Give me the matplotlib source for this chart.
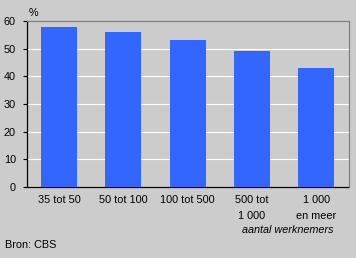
import matplotlib.pyplot as plt

# Data
categories = ["35 tot 50", "50 tot 100", "100 tot 500", "500 tot\n1 000", "1 000\nen meer"]
values = [58, 56, 53, 49, 43]
yticks = [0, 10, 20, 30, 40, 50, 60]

bg = "#cccccc"
bar_color = "#3366ff"

plt.rcParams["font.family"] = ["Liberation Sans", "DejaVu Sans"]

fig = plt.figure(figsize=(3.56, 2.58), dpi=100, facecolor=bg)
ax = fig.add_axes([27 / 356, 71 / 258, 321.5 / 356, 166 / 258], facecolor=bg)

x = range(len(categories))
ax.bar(x, values, width=0.56, color=bar_color, zorder=3)

ax.set_xlim(-0.5, len(categories) - 0.5)
ax.set_ylim(0, 60)
ax.set_yticks(yticks)
ax.yaxis.grid(True, color="white", linewidth=0.8, zorder=1)
ax.set_axisbelow(True)

ax.set_xticks(list(x))
ax.set_xticklabels(categories, fontsize=7.8, linespacing=1.75, va="top")
ax.tick_params(axis="x", length=0, pad=6)
ax.tick_params(axis="y", length=3, width=0.8, pad=5, labelsize=7.8, direction="out")

for side in ["left", "bottom"]:
    ax.spines[side].set_color("black")
    ax.spines[side].set_linewidth(0.9)
for side in ["top", "right"]:
    ax.spines[side].set_color("#808080")
    ax.spines[side].set_linewidth(0.9)

fig.text(29 / 356, 1 - 13 / 258, "%", fontsize=7.8, va="center", ha="left")
fig.text(334 / 356, 1 - 230 / 258, "aantal werknemers", fontsize=7.8, style="italic",
         va="center", ha="right")
fig.text(5 / 356, 1 - 245 / 258, "Bron: CBS", fontsize=7.8, va="center", ha="left")

fig.savefig("out.png", dpi=100, facecolor=bg)
